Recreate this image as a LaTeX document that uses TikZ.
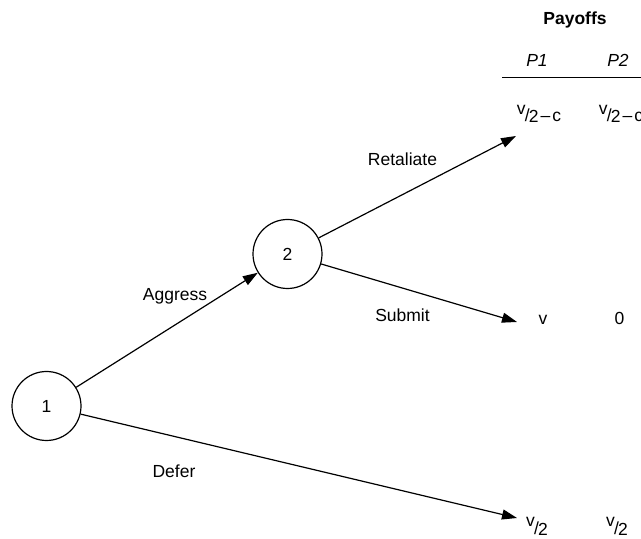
\documentclass[tikz,border=0pt]{standalone}
\usepackage{fontspec}
\setmainfont{Liberation Sans}
\usetikzlibrary{arrows.meta}
\newcommand{\vhalf}{\raisebox{7pt}{v}\kern-0.8pt/\kern-0.8pt\raisebox{-1pt}{2}}
\begin{document}
\begin{tikzpicture}[x=1pt,y=1pt,font=\fontsize{17.5}{21}\selectfont,line width=1.2pt,
		>={Triangle[length=15pt,width=10pt]},
		player/.style={circle,draw,minimum size=69pt,inner sep=0pt},
		lbl/.style={anchor=base,inner sep=0pt}]
			\clip (0,0) rectangle (641,539);
			\node[player] (N1) at (46.5,133) {1};
			\node[player] (N2) at (287.5,285) {2};
			\coordinate (R) at (516,403);
			\coordinate (S) at (517,217);
			\coordinate (D) at (517,21);
			\coordinate (H1) at (502,461.5);
			\coordinate (H2) at (641,461.5);
			\draw [->] (N1) -- (N2);
			\draw [->] (N2) -- (R);
			\draw [->] (N2) -- (S);
			\draw [->] (N1) -- (D);
			\draw (H1) -- (H2);
			\node[lbl] (aggress) at (175,238) {Aggress};
			\node[lbl] (retaliate) at (402.5,373) {Retaliate};
			\node[lbl] (submit) at (402.5,217) {Submit};
			\node[lbl] (defer) at (174,61) {Defer};
			\node[lbl,font=\fontsize{17.5}{21}\selectfont\bfseries] (payoffs) at (575,514) {Payoffs};
			\node[lbl,font=\fontsize{17.5}{21}\selectfont\itshape] (p1) at (537,472) {P1};
			\node[lbl,font=\fontsize{17.5}{21}\selectfont\itshape] (p2) at (618,472) {P2};
			\node[lbl] (r1) at (539,417) {\vhalf\kern2pt--\kern2pt c};
			\node[lbl] (r2) at (621,417) {\vhalf\kern2pt--\kern2pt c};
			\node[lbl] (s1) at (543,214) {v};
			\node[lbl] (s2) at (619.5,214) {0};
			\node[lbl] (d1) at (537,5) {\vhalf};
			\node[lbl] (d2) at (617,5) {\vhalf};
		\end{tikzpicture}
\end{document}
